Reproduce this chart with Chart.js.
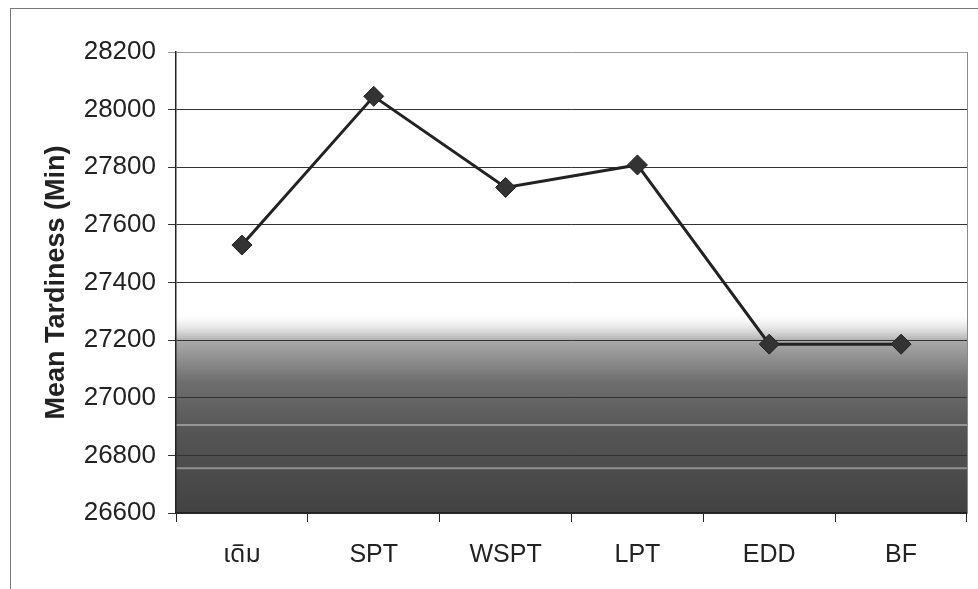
<!DOCTYPE html>
<html>
<head>
<meta charset="utf-8">
<script src="https://cdn.jsdelivr.net/npm/chart.js@4/dist/chart.umd.min.js"></script>
<style>
  html, body { margin: 0; padding: 0; background: #fff; }
  canvas { display: block; }
</style>
</head>
<body>
<canvas id="myChart" width="978" height="589"></canvas>
<script>
const categories = ["เดิม", "SPT", "WSPT", "LPT", "EDD", "BF"];
const tardiness = [27530, 28046, 27730, 27808, 27186, 27186];
const yMin = 26600;
const yMax = 28200;
const yStep = 200;

const fontFamily = "'Liberation Sans', Arial, 'Noto Sans Thai', 'Noto Sans', sans-serif";

// scanned page look: frame, right edge of plot and the dark band at the bottom
const scanLook = {
  id: "scanLook",
  beforeDraw(chart) {
    const { ctx, chartArea } = chart;
    ctx.save();
    ctx.strokeStyle = "#777";
    ctx.lineWidth = 1;
    ctx.strokeRect(10.5, 8.5, 2000, 2000);

    const y0 = chart.scales.y.getPixelForValue(27300);
    const g = ctx.createLinearGradient(0, y0, 0, chartArea.bottom);
    g.addColorStop(0, "rgba(255,255,255,0)");
    g.addColorStop(0.15, "#a8a8a8");
    g.addColorStop(0.35, "#6e6e6e");
    g.addColorStop(0.6, "#555");
    g.addColorStop(1, "#424242");
    ctx.fillStyle = g;
    ctx.fillRect(chartArea.left, y0, chartArea.right - chartArea.left, chartArea.bottom - y0);

    // faint light streaks of the scan
    ctx.strokeStyle = "rgba(200,200,200,0.55)";
    ctx.lineWidth = 2;
    [26905, 26755].forEach((v) => {
      const y = chart.scales.y.getPixelForValue(v);
      ctx.beginPath();
      ctx.moveTo(chartArea.left, y);
      ctx.lineTo(chartArea.right, y);
      ctx.stroke();
    });
    ctx.restore();
  },
  afterDatasetsDraw(chart) {
    const { ctx, chartArea } = chart;
    ctx.save();
    ctx.strokeStyle = "#888";
    ctx.lineWidth = 1;
    ctx.beginPath();
    ctx.moveTo(Math.round(chartArea.right) + 0.5, chartArea.top);
    ctx.lineTo(Math.round(chartArea.right) + 0.5, chartArea.bottom);
    ctx.stroke();
    ctx.restore();
  },
};

const ctx = document.getElementById("myChart");
const myChart = new Chart(ctx, {
  type: "line",
  data: {
    labels: categories,
    datasets: [
      {
        label: "Mean Tardiness",
        data: tardiness,
        borderColor: "#222",
        borderWidth: 3,
        backgroundColor: "#333",
        pointStyle: "rectRot",
        pointRadius: 10,
        pointBorderColor: "#222",
        pointBorderWidth: 1,
        tension: 0,
      },
    ],
  },
  options: {
    responsive: false,
    animation: false,
    layout: { padding: { top: 52, right: 10, left: 0, bottom: 0 } },
    plugins: {
      legend: { display: false },
      tooltip: { enabled: false },
    },
    scales: {
      x: {
        offset: true,
        grid: {
          offset: true,
          drawOnChartArea: false,
          color: "#222",
          tickLength: 9,
        },
        border: { color: "#222", width: 1.5 },
        ticks: {
          color: "#222",
          padding: 18,
          font: { family: fontFamily, size: 25 },
          maxRotation: 0,
        },
        afterFit(scale) {
          scale.height = 76;
        },
      },
      y: {
        min: yMin,
        max: yMax,
        grid: {
          color: (c) => (c.tick.value === yMax ? "#999" : "#333"),
          lineWidth: 1,
          tickLength: 8,
        },
        border: { color: "#222", width: 1.5 },
        ticks: {
          stepSize: yStep,
          color: "#222",
          padding: 12,
          font: { family: fontFamily, size: 26 },
          callback: (v) => String(v),
        },
        title: {
          display: true,
          text: "Mean Tardiness (Min)",
          color: "#222",
          font: { family: fontFamily, size: 27, weight: "bold" },
          padding: { top: 40, bottom: 0 },
        },
        afterFit(scale) {
          scale.width = 176;
        },
      },
    },
  },
  plugins: [scanLook],
});
</script>
</body>
</html>
